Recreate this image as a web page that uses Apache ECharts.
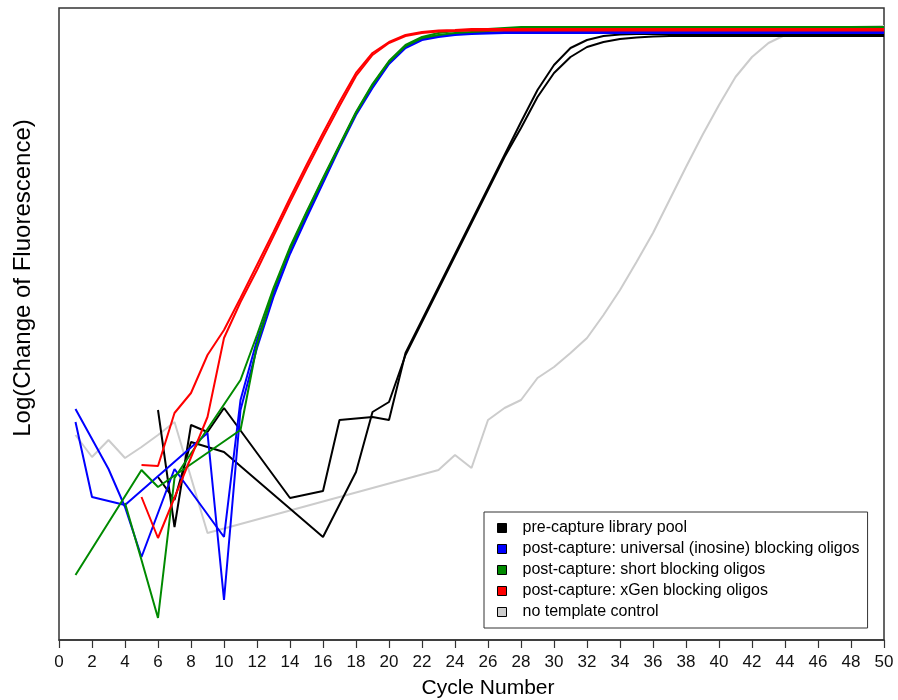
<!DOCTYPE html>
<html>
<head>
<meta charset="utf-8">
<script src="https://cdn.jsdelivr.net/npm/echarts@6/dist/echarts.min.js"></script>
<style>
html,body{margin:0;padding:0;background:#fff;}
#chart{width:898px;height:700px;}
</style>
</head>
<body>
<div id="chart"></div>
<script>
// ---- Data (cycle, log change of fluorescence in arbitrary units) ----
const legendNames = [
  'pre-capture library pool',
  'post-capture: universal (inosine) blocking oligos',
  'post-capture: short blocking oligos',
  'post-capture: xGen blocking oligos',
  'no template control'
];
const seriesColors = ['#000000', '#0000ff', '#008a00', '#ff0000', '#cccccc'];
const xTicks = { min: 0, max: 50, step: 2 };

const blackA = [[6,2.30],[7,1.13],[8,2.15],[9,2.08],[10,2.32],[14,1.42],[16,1.49],[17,2.20],[19,2.23],[20,2.20],[21,2.87],[22,3.20],[23,3.53],[24,3.86],[25,4.19],[26,4.52],[27,4.85],[28,5.18],[29,5.50],[30,5.75],[31,5.92],[32,6.00],[33,6.04],[34,6.055],[35,6.06],[40,6.06],[50,6.06]];
const blackB = [[6,1.63],[7,1.40],[8,1.98],[10,1.88],[16,1.03],[18,1.68],[19,2.28],[20,2.38],[21,2.85],[22,3.18],[23,3.51],[24,3.84],[25,4.17],[26,4.50],[27,4.83],[28,5.12],[29,5.43],[30,5.67],[31,5.83],[32,5.93],[33,5.98],[34,6.01],[35,6.025],[36,6.035],[37,6.04],[50,6.04]];
const blueA  = [[1,2.31],[3,1.71],[4,1.33],[5,0.83],[7,1.71],[10,1.03],[11,2.40],[12,3.00],[13,3.47],[14,3.90],[15,4.25],[16,4.60],[17,4.94],[18,5.27],[19,5.54],[20,5.77],[21,5.93],[22,6.01],[23,6.04],[24,6.06],[25,6.07],[26,6.075],[27,6.08],[50,6.08]];
const blueB  = [[1,2.18],[2,1.43],[4,1.35],[9,2.07],[10,0.40],[11,2.30],[12,2.92],[13,3.43],[14,3.86],[15,4.22],[16,4.57],[17,4.92],[18,5.25],[19,5.52],[20,5.76],[21,5.92],[22,6.00],[23,6.03],[24,6.05],[25,6.06],[26,6.065],[27,6.07],[50,6.07]];
const greenA = [[1,0.65],[5,1.70],[6,1.53],[11,2.10],[12,2.95],[13,3.50],[14,3.91],[15,4.27],[16,4.61],[17,4.94],[18,5.27],[19,5.55],[20,5.78],[21,5.94],[22,6.02],[23,6.05],[24,6.07],[25,6.08],[26,6.09],[27,6.10],[28,6.11],[50,6.11]];
const greenB = [[4,1.37],[5,0.80],[6,0.22],[7,1.62],[11,2.60],[12,3.05],[13,3.52],[14,3.93],[15,4.28],[16,4.62],[17,4.95],[18,5.28],[19,5.56],[20,5.79],[21,5.95],[22,6.03],[23,6.07],[24,6.09],[25,6.10],[26,6.11],[27,6.12],[28,6.13],[50,6.13]];
const redA   = [[5,1.75],[6,1.74],[7,2.27],[8,2.47],[9,2.85],[10,3.10],[11,3.42],[12,3.75],[13,4.08],[14,4.42],[15,4.75],[16,5.07],[17,5.38],[18,5.67],[19,5.87],[20,5.98],[21,6.05],[22,6.08],[23,6.095],[24,6.10],[25,6.11],[50,6.11]];
const redB   = [[5,1.43],[6,1.02],[9,2.23],[10,3.02],[11,3.38],[12,3.70],[13,4.04],[14,4.38],[15,4.71],[16,5.03],[17,5.34],[18,5.64],[19,5.85],[20,5.97],[21,6.04],[22,6.07],[23,6.085],[24,6.09],[25,6.095],[50,6.095]];
const grayNTC = [[1,2.05],[2,1.83],[3,2.00],[4,1.82],[5,1.93],[6,2.05],[7,2.18],[9,1.07],[23,1.70],[24,1.85],[25,1.72],[26,2.20],[27,2.32],[28,2.40],[29,2.62],[30,2.73],[31,2.87],[32,3.02],[33,3.25],[34,3.50],[35,3.78],[36,4.07],[37,4.40],[38,4.73],[39,5.05],[40,5.35],[41,5.63],[42,5.83],[43,5.97],[44,6.05],[45,6.09],[46,6.11],[47,6.12],[48,6.13],[49,6.135],[50,6.14]];

// draw order: gray first, then black, blue, green, red
const traces = [
  { data: grayNTC, group: 4 },
  { data: blackA, group: 0 },
  { data: blackB, group: 0 },
  { data: blueA,  group: 1 },
  { data: blueB,  group: 1 },
  { data: greenA, group: 2 },
  { data: greenB, group: 2 },
  { data: redA,   group: 3 },
  { data: redB,   group: 3 }
];

const FONT = '"Liberation Sans", Arial, Helvetica, sans-serif';

const chart = echarts.init(document.getElementById('chart'), null, { renderer: 'canvas' });
chart.setOption({
  animation: false,
  backgroundColor: '#ffffff',
  grid: {
    left: 59, right: 14, top: 8, bottom: 60,
    show: true, borderColor: '#333333', borderWidth: 1.5, backgroundColor: 'transparent'
  },
  xAxis: {
    type: 'value',
    min: xTicks.min, max: xTicks.max, interval: xTicks.step,
    axisLine: { show: true, onZero: false, lineStyle: { color: '#333333', width: 1.5 } },
    axisTick: { show: true, inside: false, length: 8, lineStyle: { color: '#333333', width: 1.2 } },
    axisLabel: { fontSize: 17, color: '#111111', margin: 14, fontFamily: FONT },
    splitLine: { show: false }
  },
  yAxis: {
    type: 'value', min: 0, max: 6.32, show: false
  },
  legend: {
    orient: 'vertical',
    left: 484, top: 512,
    padding: [8, 8, 8, 13],
    borderColor: '#333333', borderWidth: 1,
    backgroundColor: '#ffffff',
    itemWidth: 9, itemHeight: 9, itemGap: 5,
    icon: 'rect',
    selectedMode: false,
    itemStyle: { borderColor: '#000000', borderWidth: 1 },
    textStyle: { fontSize: 16, color: '#000000', fontFamily: FONT, padding: [0, 0, 0, 11] },
    data: legendNames.map((n, i) => ({ name: n, itemStyle: { color: seriesColors[i] } }))
  },
  graphic: [
    {
      type: 'text', x: 23, y: 278, rotation: Math.PI / 2,
      style: { text: 'Log(Change of Fluorescence)', font: '24px ' + FONT, fill: '#000000', textAlign: 'center', textVerticalAlign: 'middle' }
    },
    {
      type: 'text', x: 488, y: 688,
      style: { text: 'Cycle Number', font: '21px ' + FONT, fill: '#000000', textAlign: 'center', textVerticalAlign: 'middle' }
    }
  ],
  series: traces.map(t => ({
    type: 'line',
    name: legendNames[t.group],
    data: t.data,
    showSymbol: false,
    symbol: 'none',
    clip: true,
    itemStyle: { color: seriesColors[t.group] },
    lineStyle: { color: seriesColors[t.group], width: 2 },
    emphasis: { disabled: true }
  }))
});
</script>
</body>
</html>
